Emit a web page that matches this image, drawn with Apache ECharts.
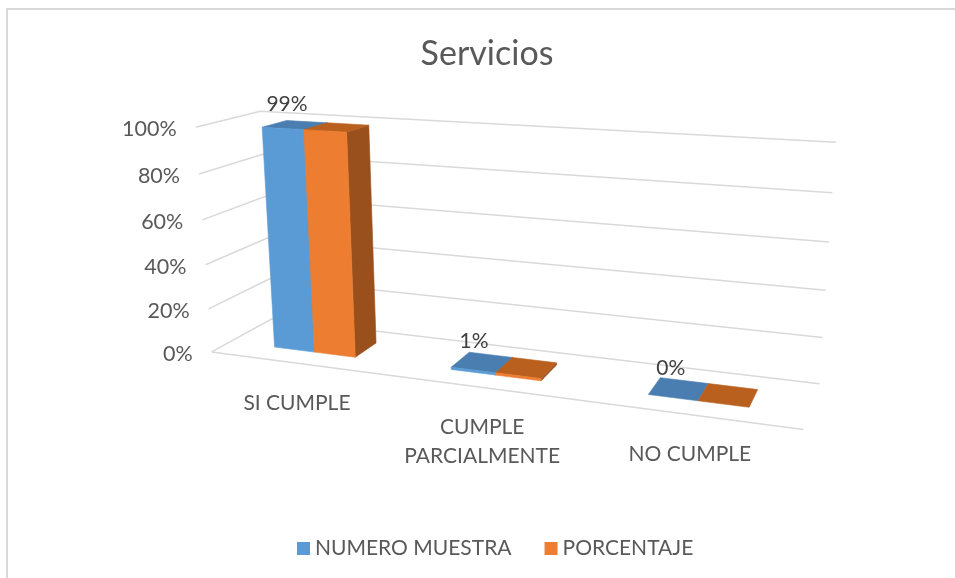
<!DOCTYPE html>
<html><head><meta charset="utf-8">
<script src="https://cdn.jsdelivr.net/npm/echarts@6/dist/echarts.min.js"></script>
<style>html,body{margin:0;padding:0;background:#fff}#c{width:955px;height:578px}</style>
</head><body><div id="c"></div>
<script>
// ---- data ----
const categories = ['SI CUMPLE', 'CUMPLE\nPARCIALMENTE', 'NO CUMPLE'];
const seriesNames = ['NUMERO MUESTRA', 'PORCENTAJE'];
const numeroMuestra = [0.99, 0.01, 0.00];
const porcentaje = [0.99, 0.01, 0.00];
const yTicks = [0, 0.2, 0.4, 0.6, 0.8, 1];
const yTickLabels = ['0%', '20%', '40%', '60%', '80%', '100%'];

// ---- layout: calibration of the 3D box (box coords x,y,z in 0..1 -> screen) ----
const BOX_CALIB = [
  [0,1,0,196,126.7],[0,0,0,211.7,352.3],[0,1,1,260,111.7],[0,0,1,272,318],
  [1,1,1,835.7,142.3],[1,0,1,819.3,384],[1,0,0,803.3,429],
  [0,0.8,0,199.3,174],[0,0.6,0,202,220],[0,0.4,0,205.3,265],[0,0.2,0,208.7,309.3],
  [1,0.8,1,832.3,192.3],[1,0.6,1,829,242],[1,0.4,1,826,290.3],[1,0.2,1,822.7,337.7]
];
const GROUP_FRAC = 0.47, Z_FRONT = 0.3, Z_BACK = 0.7;
const CAT_LABEL_DY = 25.5;
const BAR_COLORS = [
  {front:'#5B9BD5', top:'#4A7EB0', side:'#41719C'},
  {front:'#ED7D31', top:'#B9601F', side:'#9A501D'}
];

function fit(pairs){
  const n=11; const M=[...Array(n)].map(()=>new Array(n+1).fill(0));
  const add=(row,rhs)=>{for(let i=0;i<n;i++){for(let j=0;j<n;j++)M[i][j]+=row[i]*row[j];M[i][n]+=row[i]*rhs;}};
  for(const [X,Y,Z,u,v] of pairs){
    add([X,Y,Z,1,0,0,0,0,-u*X,-u*Y,-u*Z],u);
    add([0,0,0,0,X,Y,Z,1,-v*X,-v*Y,-v*Z],v);
  }
  for(let c=0;c<n;c++){
    let p=c; for(let r=c+1;r<n;r++) if(Math.abs(M[r][c])>Math.abs(M[p][c]))p=r;
    const t=M[c];M[c]=M[p];M[p]=t;
    for(let r=0;r<n;r++){ if(r===c)continue; const f=M[r][c]/M[c][c]; for(let k=c;k<=n;k++)M[r][k]-=f*M[c][k]; }
  }
  return M.map((row,i)=>row[n]/row[i]);
}
const P = fit(BOX_CALIB);
function proj(X,Y,Z){
  const w=P[8]*X+P[9]*Y+P[10]*Z+1;
  return [(P[0]*X+P[1]*Y+P[2]*Z+P[3])/w,(P[4]*X+P[5]*Y+P[6]*Z+P[7])/w];
}
function polyArea(pts){let a=0;for(let i=0;i<pts.length;i++){const p=pts[i],q=pts[(i+1)%pts.length];a+=p[0]*q[1]-q[0]*p[1];}return a/2;}
const REF_SIGN = Math.sign(polyArea([proj(0.4,0.4,0.4),proj(0.6,0.4,0.4),proj(0.6,0.6,0.4),proj(0.4,0.6,0.4)]));

function toBox(cs, px, py){ return [(px-cs.x)/cs.width, (cs.y+cs.height-py)/cs.height]; }

function makeBarRender(sIdx){
  return function(params, api){
    const cs=params.coordSys;
    const cat=api.value(0), val=api.value(1);
    const top=api.coord([cat,val]), base=api.coord([cat,0]);
    const band=api.size([1,0])[0];
    const gw=band*GROUP_FRAC, sw=gw/2;
    const pxL=top[0]-gw/2+sIdx*sw, pxR=pxL+sw;
    const x0=toBox(cs,pxL,0)[0], x1=toBox(cs,pxR,0)[0];
    const y0=toBox(cs,0,base[1])[1], y1=toBox(cs,0,top[1])[1];
    const z0=Z_FRONT, z1=Z_BACK;
    const col=BAR_COLORS[sIdx];
    const faces=[
      [[[x1,y0,z0],[x1,y0,z1],[x1,y1,z1],[x1,y1,z0]], col.side],
      [[[x0,y0,z0],[x0,y1,z0],[x0,y1,z1],[x0,y0,z1]], col.side],
      [[[x0,y1,z0],[x1,y1,z0],[x1,y1,z1],[x0,y1,z1]], col.top],
      [[[x0,y0,z0],[x1,y0,z0],[x1,y1,z0],[x0,y1,z0]], col.front]
    ];
    const children=[];
    for(const [pts3,fill] of faces){
      const pts=pts3.map(p=>proj(p[0],p[1],p[2]));
      const a=polyArea(pts);
      if(Math.abs(a)<0.05 || Math.sign(a)!==REF_SIGN) continue;
      children.push({type:'polygon',shape:{points:pts},style:{fill:fill,stroke:fill,lineWidth:0.6}});
    }
    return {type:'group',children};
  };
}

function wallRender(params, api){
  const cs=params.coordSys;
  const v=api.value(1);
  const by=toBox(cs,0,api.coord([0,v])[1])[1];
  const a=proj(0,by,0), b=proj(0,by,1), c=proj(1,by,1);
  const children=[
    {type:'polyline',shape:{points:[a,b,c]},style:{stroke:'#D9D9D9',lineWidth:1.5,fill:'none'}},
    {type:'text',x:a[0]-19,y:a[1]+2,style:{text:yTickLabels[params.dataIndex],align:'right',verticalAlign:'middle',fontSize:21.5,fontFamily:'Lato',fill:'#595959'}}
  ];
  if(params.dataIndex===0){
    const f=proj(1,by,0);
    children.push({type:'line',shape:{x1:a[0],y1:a[1],x2:f[0],y2:f[1]},style:{stroke:'#D9D9D9',lineWidth:1.5,fill:'none'}});
  }
  return {type:'group',children};
}

function catLabelRender(params, api){
  const cs=params.coordSys; const c=api.coord([api.value(0),0]);
  const bx=toBox(cs,c[0],c[1])[0];
  const p=proj(bx,0,0);
  return {type:'text',x:p[0],y:p[1]+CAT_LABEL_DY,style:{text:categories[params.dataIndex],align:'center',verticalAlign:'top',fontSize:21,fontFamily:'Lato',fill:'#595959',lineHeight:29}};
}

function valueLabelRender(params, api){
  const cs=params.coordSys; const cat=api.value(0), val=api.value(1);
  const top=api.coord([cat,val]); const band=api.size([1,0])[0];
  const gw=band*GROUP_FRAC; const cx=top[0]-gw/4;
  const b=toBox(cs,cx,top[1]);
  const p=proj(b[0],b[1],(Z_FRONT+Z_BACK)/2);
  return {type:'text',x:p[0]-8,y:p[1]-21,style:{text:Math.round(val*100)+'%',align:'center',verticalAlign:'middle',fontSize:21,fontFamily:'Lato',fill:'#404040'}};
}

const chart = echarts.init(document.getElementById('c'), null, {renderer:'canvas'});
chart.setOption({
  animation:false,
  backgroundColor:'#ffffff',
  title:{text:'Servicios',left:482,textAlign:'center',top:32,textStyle:{fontFamily:'Lato',fontSize:34,fontWeight:'normal',color:'#595959'}},
  legend:{data:seriesNames,left:297,top:538,padding:0,itemWidth:13,itemHeight:13,icon:'rect',itemGap:33,
    textStyle:{fontFamily:'Lato',fontSize:21,color:'#595959'}},
  graphic:[{type:'rect',shape:{x:7,y:9,width:1000,height:1000},style:{fill:'none',stroke:'#D9D9D9',lineWidth:2},silent:true}],
  grid:{left:0,top:0,width:300,height:300,show:false},
  xAxis:{type:'category',data:categories,show:false},
  yAxis:{type:'value',min:0,max:1,show:false},
  series:[
    {type:'custom',name:'walls',renderItem:wallRender,data:yTicks.map(v=>[0,v]),silent:true,z:1},
    {type:'custom',name:seriesNames[0],renderItem:makeBarRender(0),data:numeroMuestra.map((v,i)=>[i,v]),itemStyle:{color:'#5B9BD5'},z:2},
    {type:'custom',name:seriesNames[1],renderItem:makeBarRender(1),data:porcentaje.map((v,i)=>[i,v]),itemStyle:{color:'#ED7D31'},z:3},
    {type:'custom',name:'valueLabels',renderItem:valueLabelRender,data:numeroMuestra.map((v,i)=>[i,v]),silent:true,z:4},
    {type:'custom',name:'catLabels',renderItem:catLabelRender,data:categories.map((c,i)=>[i,0]),silent:true,z:4}
  ]
});
</script></body></html>
